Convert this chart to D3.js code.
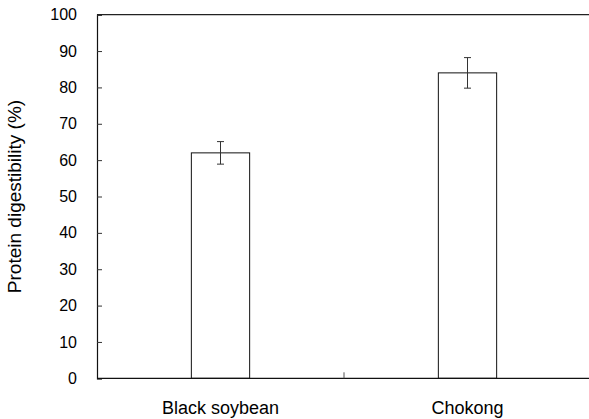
<!DOCTYPE html>
<html><head><meta charset="utf-8">
<script src="https://cdn.jsdelivr.net/npm/d3@7"></script>
<style>body{margin:0;background:#fff}svg{display:block}text{font-family:"Liberation Sans",Arial,sans-serif;fill:#000}</style>
</head><body><svg id="c" width="589" height="419"></svg>
<script>
const categories = ["Black soybean", "Chokong"];
const values = [62, 84];
const errors = [3.1, 4.2];
const yTicks = [0, 10, 20, 30, 40, 50, 60, 70, 80, 90, 100];
const yLabel = "Protein digestibility (%)";

const svg = d3.select("#c");
const m = {l: 97, r: 591, t: 14.7, b: 378.3};
const x = d3.scaleBand().domain(categories).range([m.l, m.r]).paddingInner(0.764).paddingOuter(0.382);
const y = d3.scaleLinear().domain([0, 100]).range([m.b, m.t]);

// top border
svg.append("line").attr("x1", m.l).attr("x2", 589).attr("y1", m.t).attr("y2", m.t)
  .attr("stroke", "#222").attr("stroke-width", 1.2);

// bars
svg.selectAll("rect.bar").data(categories).enter().append("rect")
  .attr("x", d => x(d)).attr("width", x.bandwidth())
  .attr("y", (d, i) => y(values[i])).attr("height", (d, i) => y(0) - y(values[i]))
  .attr("fill", "#fff").attr("stroke", "#111").attr("stroke-width", 1);

// error bars
const eg = svg.selectAll("g.err").data(categories).enter().append("g");
eg.append("line").attr("x1", d => x(d) + x.bandwidth() / 2).attr("x2", d => x(d) + x.bandwidth() / 2)
  .attr("y1", (d, i) => y(values[i] + errors[i])).attr("y2", (d, i) => y(values[i] - errors[i]))
  .attr("stroke", "#333").attr("stroke-width", 1);
[1, -1].forEach(s => {
  eg.append("line").attr("x1", d => x(d) + x.bandwidth() / 2 - 3.5).attr("x2", d => x(d) + x.bandwidth() / 2 + 3.5)
    .attr("y1", (d, i) => y(values[i] + s * errors[i])).attr("y2", (d, i) => y(values[i] + s * errors[i]))
    .attr("stroke", "#333").attr("stroke-width", 1);
});

// y axis
const ya = svg.append("g").attr("transform", `translate(${m.l},0)`)
  .call(d3.axisLeft(y).tickValues(yTicks).tickSize(-5).tickPadding(20).tickFormat(d3.format("d")));
ya.select(".domain").attr("stroke", "#111").attr("stroke-width", 1.2);
ya.selectAll(".tick line").attr("stroke", "#333");
ya.selectAll("text").attr("font-size", 16).attr("font-family", "Liberation Sans, Arial, sans-serif").attr("fill", "#000");

// x axis
svg.append("line").attr("x1", m.l).attr("x2", 589).attr("y1", m.b).attr("y2", m.b)
  .attr("stroke", "#111").attr("stroke-width", 1.2);
const mid = (x(categories[0]) + x.bandwidth() + x(categories[1])) / 2;
svg.append("line").attr("x1", mid).attr("x2", mid).attr("y1", m.b).attr("y2", m.b - 6)
  .attr("stroke", "#555").attr("stroke-width", 1);
svg.selectAll("text.xl").data(categories).enter().append("text")
  .attr("x", d => x(d) + x.bandwidth() / 2).attr("y", 414)
  .attr("text-anchor", "middle").attr("font-size", 18).text(d => d);

svg.append("text").attr("transform", `translate(21,${(m.t + m.b) / 2}) rotate(-90)`)
  .attr("text-anchor", "middle").attr("font-size", 19).text(yLabel);
</script></body></html>
